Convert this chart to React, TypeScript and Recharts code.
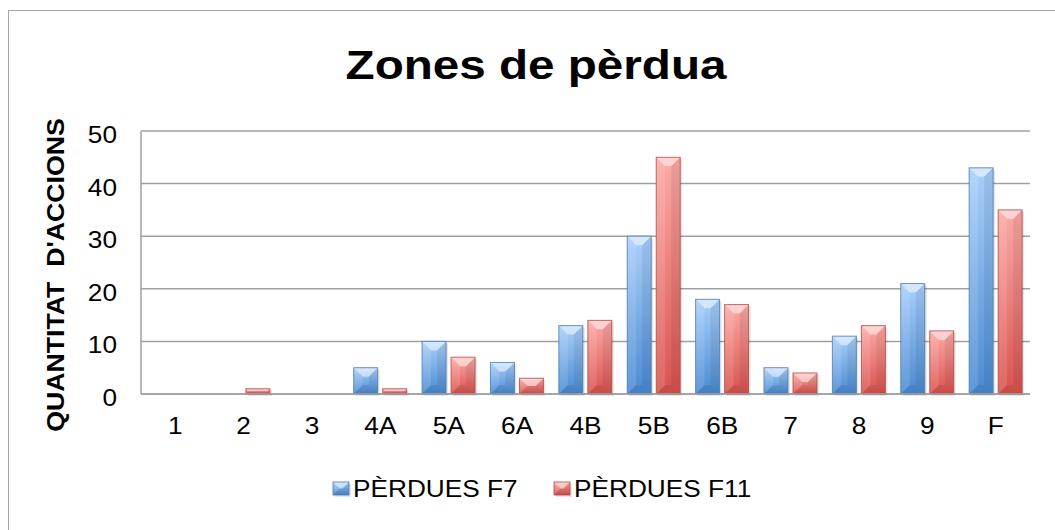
import { BarChart, Bar, XAxis, YAxis, CartesianGrid, Legend } from 'recharts'

const categories = ['1', '2', '3', '4A', '5A', '6A', '4B', '5B', '6B', '7', '8', '9', 'F']
const f7Values = [0, 0, 0, 5, 10, 6, 13, 30, 18, 5, 11, 21, 43]
const f11Values = [0, 1, 0, 1, 7, 3, 14, 45, 17, 4, 13, 12, 35]
const seriesNames = ['PÈRDUES F7', 'PÈRDUES F11']
const yTicks = [0, 10, 20, 30, 40, 50]

const data = categories.map((c, i) => ({ zone: c, f7: f7Values[i], f11: f11Values[i] }))

const FONT = '"Liberation Sans", Arial, sans-serif'
const STRETCH = 1.14

const palette = [
  { grad: 'url(#blueGrad)', stroke: '#4c79b0' },
  { grad: 'url(#redGrad)', stroke: '#b04a47' },
]

function makeShape(stroke: string) {
  return (props: any) => {
    const { x, y, width: w, height: h, fill } = props
    if (!h || h <= 0) return <g />
    const b = Math.min(9, w / 2, h / 2)
    return (
      <g>
        <rect x={x + 2} y={y + 2} width={w} height={h} fill="#000" opacity={0.1} />
        <rect x={x} y={y} width={w} height={h} fill={fill} />
        <polygon points={`${x},${y} ${x + w},${y} ${x + w - b},${y + b} ${x + b},${y + b}`} fill="#fff" opacity={0.5} />
        <polygon points={`${x},${y} ${x + b},${y + b} ${x + b},${y + h - b} ${x},${y + h}`} fill="#fff" opacity={0.12} />
        <polygon points={`${x + w},${y} ${x + w},${y + h} ${x + w - b},${y + h - b} ${x + w - b},${y + b}`} fill="#000" opacity={0.07} />
        <polygon points={`${x},${y + h} ${x + b},${y + h - b} ${x + w - b},${y + h - b} ${x + w},${y + h}`} fill="#000" opacity={0.08} />
        <rect x={x} y={y} width={w} height={h} fill="none" stroke={stroke} strokeWidth={1} strokeOpacity={0.8} />
      </g>
    )
  }
}

function stretched(x: number, y: number) {
  return `translate(${x} ${y}) scale(${STRETCH} 1) translate(${-x} ${-y})`
}

const XTick = (props: any) => {
  const { x, y, payload } = props
  return (
    <text x={x} y={y} dy="0.71em" textAnchor="middle" fontSize={23} fontFamily={FONT} fill="#000" transform={stretched(x, y)}>
      {payload.value}
    </text>
  )
}

const YTick = (props: any) => {
  const { x, y, payload } = props
  return (
    <text x={x} y={y} dy={12} textAnchor="end" fontSize={23} fontFamily={FONT} fill="#000" transform={stretched(x, y)}>
      {payload.value}
    </text>
  )
}

const LegendContent = () => (
  <div style={{ position: 'relative', height: 24 }}>
    {seriesNames.map((name, i) => (
      <div key={name} style={{ position: 'absolute', left: i * 221, top: 0, height: 24, display: 'flex', alignItems: 'center' }}>
        <svg width={19} height={16} style={{ marginRight: 2 }}>
          {makeShape(palette[i].stroke)({ x: 1, y: 1, width: 16, height: 13, fill: palette[i].grad })}
        </svg>
        <span style={{ fontFamily: FONT, fontSize: 23, lineHeight: '24px', color: '#000', display: 'inline-block', transform: `scaleX(${STRETCH})`, transformOrigin: 'left center', whiteSpace: 'nowrap' }}>
          {name}
        </span>
      </div>
    ))}
  </div>
)

export default function App() {
  return (
    <div style={{ position: 'fixed', left: 0, top: 0, width: 1055, height: 530, overflow: 'hidden', background: '#fff' }}>
      <svg width={0} height={0} style={{ position: 'absolute' }}>
        <defs>
          <linearGradient id="blueGrad" x1="0" y1="0" x2="0" y2="1">
            <stop offset="0%" stopColor="#a9d0fb" />
            <stop offset="100%" stopColor="#4a8ad2" />
          </linearGradient>
          <linearGradient id="redGrad" x1="0" y1="0" x2="0" y2="1">
            <stop offset="0%" stopColor="#fdaaa7" />
            <stop offset="100%" stopColor="#d9524e" />
          </linearGradient>
        </defs>
      </svg>
      <div style={{ position: 'absolute', left: 8, top: 10, width: 1100, height: 600, border: '1.5px solid #a6a6a6' }} />
      <div
        style={{
          position: 'absolute', left: 536, top: 45, transform: 'translateX(-50%) scaleX(1.19)',
          fontFamily: FONT, fontWeight: 'bold', fontSize: 40, lineHeight: '40px', whiteSpace: 'nowrap', color: '#000',
        }}
      >
        Zones de pèrdua
      </div>
      <div
        style={{
          position: 'absolute', left: 56, top: 275, transform: 'translate(-50%, -50%) rotate(-90deg) scale(1.16, 1)',
          fontFamily: FONT, fontWeight: 'bold', fontSize: 23, lineHeight: '23px', whiteSpace: 'pre', color: '#000',
        }}
      >
        {'QUANTITAT  D\'ACCIONS'}
      </div>
      <div style={{ position: 'absolute', left: 0, top: 0 }}>
        <BarChart width={1055} height={530} data={data} margin={{ top: 131, right: 25, bottom: 0, left: 0 }} barCategoryGap="11%" barGap={5}>
          <CartesianGrid vertical={false} stroke="#a0a0a0" strokeWidth={1.5} />
          <XAxis dataKey="zone" height={136} tickLine={false} tickSize={0} tickMargin={24} axisLine={{ stroke: '#a0a0a0', strokeWidth: 1.5 }} tick={<XTick />} interval={0} />
          <YAxis width={141} domain={[0, 50]} ticks={yTicks} tickLine={false} tickSize={0} tickMargin={24} axisLine={{ stroke: '#a0a0a0', strokeWidth: 1.5 }} tick={<YTick />} />
          <Legend
            verticalAlign="middle"
            content={<LegendContent />}
            wrapperStyle={{ position: 'absolute', top: 477, left: 332, width: 450, height: 24 }}
          />
          <Bar dataKey="f7" name={seriesNames[0]} fill={palette[0].grad} shape={makeShape(palette[0].stroke)} isAnimationActive={false} />
          <Bar dataKey="f11" name={seriesNames[1]} fill={palette[1].grad} shape={makeShape(palette[1].stroke)} isAnimationActive={false} />
        </BarChart>
      </div>
    </div>
  )
}
